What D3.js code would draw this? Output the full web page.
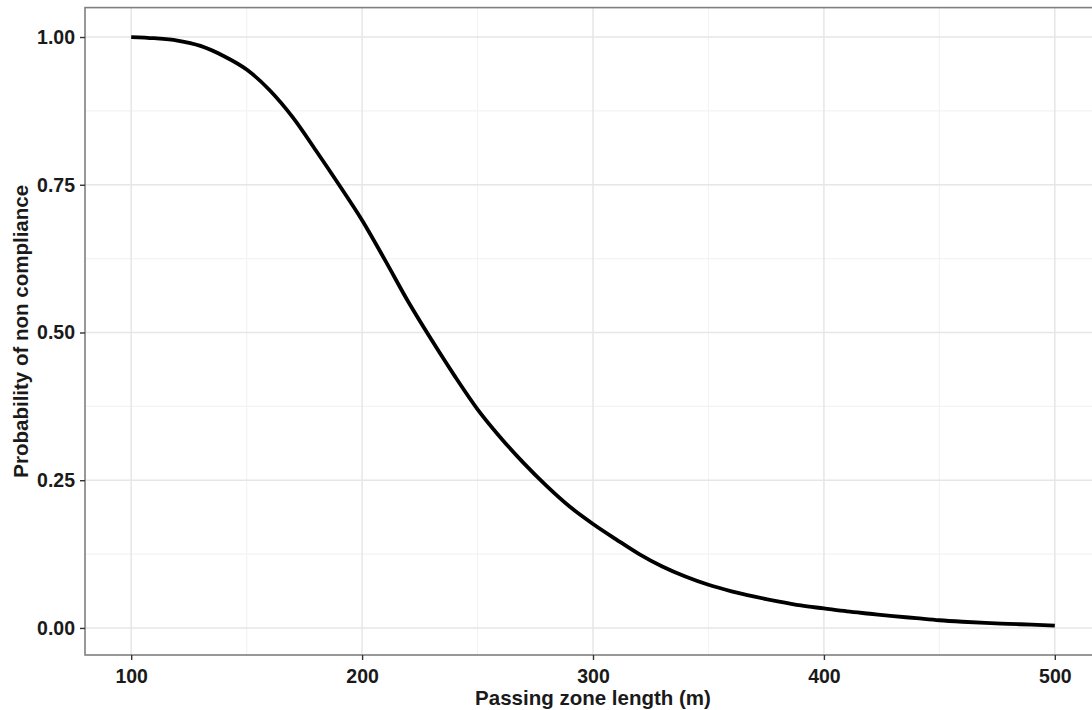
<!DOCTYPE html>
<html>
<head>
<meta charset="utf-8">
<script src="https://cdn.jsdelivr.net/npm/d3@7"></script>
<style>
  html, body { margin: 0; padding: 0; background: #fff; }
  svg { display: block; }
  text { font-family: "Liberation Sans", Arial, sans-serif; font-weight: bold; fill: #1a1a1a; }
</style>
</head>
<body>
<svg id="chart" width="1092" height="710"></svg>
<script>
// Passing zone length (m) and predicted probability of non compliance
const zoneLength = [100, 110, 120, 130, 140, 150, 160, 170, 180, 190,
                    200, 210, 220, 230, 240, 250, 260, 270, 280, 290,
                    300, 310, 320, 330, 340, 350, 360, 370, 380, 390,
                    400, 410, 420, 430, 440, 450, 460, 470, 480, 490, 500];
const probNonCompliance = [1.000, 0.998, 0.994, 0.985, 0.968, 0.945, 0.910, 0.864, 0.808, 0.750,
                           0.690, 0.622, 0.552, 0.488, 0.427, 0.370, 0.322, 0.279, 0.240, 0.205,
                           0.176, 0.150, 0.125, 0.104, 0.087, 0.073, 0.062, 0.053, 0.045, 0.038,
                           0.033, 0.028, 0.024, 0.020, 0.0165, 0.013, 0.0105, 0.0085, 0.007, 0.0055, 0.004];

const xTicks = [100, 200, 300, 400, 500];
const xMinor = [150, 250, 350, 450];
const yTicks = [0, 0.25, 0.5, 0.75, 1];
const yMinor = [0.125, 0.375, 0.625, 0.875];
const yTickLabels = ["0.00", "0.25", "0.50", "0.75", "1.00"];

const xTitle = "Passing zone length (m)";
const yTitle = "Probability of non compliance";

const svg = d3.select("#chart");
const panel = { left: 85, top: 7.6, right: 1101, bottom: 655 };

// Data range padded by 5% on each side
const xExt = d3.extent(zoneLength);
const yExt = d3.extent(probNonCompliance);
const xPad = (xExt[1] - xExt[0]) * 0.05;
const yPad = (yExt[1] - yExt[0]) * 0.05;

const x = d3.scaleLinear()
  .domain([xExt[0] - xPad, xExt[1] + xPad])
  .range([panel.left, panel.right]);
const y = d3.scaleLinear()
  .domain([yExt[0] - yPad, yExt[1] + yPad])
  .range([panel.bottom, panel.top]);

const data = zoneLength.map((d, i) => ({ x: d, y: probNonCompliance[i] }));

// Panel background
svg.append("rect")
  .attr("x", panel.left).attr("y", panel.top)
  .attr("width", panel.right - panel.left).attr("height", panel.bottom - panel.top)
  .attr("fill", "#fff");

const grid = svg.append("g");
// Minor gridlines
grid.selectAll(".xminor").data(xMinor).join("line")
  .attr("x1", d => x(d)).attr("x2", d => x(d))
  .attr("y1", panel.top).attr("y2", panel.bottom)
  .attr("stroke", "#f3f3f3").attr("stroke-width", 1.2);
grid.selectAll(".yminor").data(yMinor).join("line")
  .attr("y1", d => y(d)).attr("y2", d => y(d))
  .attr("x1", panel.left).attr("x2", panel.right)
  .attr("stroke", "#f3f3f3").attr("stroke-width", 1.2);
// Major gridlines
grid.selectAll(".xmajor").data(xTicks).join("line")
  .attr("x1", d => x(d)).attr("x2", d => x(d))
  .attr("y1", panel.top).attr("y2", panel.bottom)
  .attr("stroke", "#e6e6e6").attr("stroke-width", 1.5);
grid.selectAll(".ymajor").data(yTicks).join("line")
  .attr("y1", d => y(d)).attr("y2", d => y(d))
  .attr("x1", panel.left).attr("x2", panel.right)
  .attr("stroke", "#e6e6e6").attr("stroke-width", 1.5);

// Curve
const line = d3.line()
  .x(d => x(d.x))
  .y(d => y(d.y))
  .curve(d3.curveMonotoneX);
svg.append("path")
  .datum(data)
  .attr("d", line)
  .attr("fill", "none")
  .attr("stroke", "#000")
  .attr("stroke-width", 3.8)
  .attr("stroke-linejoin", "round")
  .attr("stroke-linecap", "butt");

// Panel border
svg.append("rect")
  .attr("x", panel.left).attr("y", panel.top)
  .attr("width", panel.right - panel.left).attr("height", panel.bottom - panel.top)
  .attr("fill", "none")
  .attr("stroke", "#7f7f7f")
  .attr("stroke-width", 1.6);

// Axes
const xAxis = d3.axisBottom(x).tickValues(xTicks).tickSize(5).tickPadding(8).tickFormat(d3.format("d"));
const yAxis = d3.axisLeft(y).tickValues(yTicks).tickSize(5).tickPadding(5)
  .tickFormat((d, i) => yTickLabels[i]);

const gx = svg.append("g").attr("transform", `translate(0,${panel.bottom})`).call(xAxis);
const gy = svg.append("g").attr("transform", `translate(${panel.left},0)`).call(yAxis);
[gx, gy].forEach(g => {
  g.select(".domain").remove();
  g.selectAll(".tick line").attr("stroke", "#333").attr("stroke-width", 1.4);
  g.selectAll(".tick text")
    .attr("font-family", "Liberation Sans, Arial, sans-serif")
    .attr("font-weight", "bold")
    .attr("font-size", 19.5)
    .attr("fill", "#1a1a1a");
});
gx.selectAll(".tick text").attr("dy", "0.75em");

// Axis titles
svg.append("text")
  .attr("x", (panel.left + panel.right) / 2)
  .attr("y", 705)
  .attr("text-anchor", "middle")
  .attr("font-size", 20.5)
  .text(xTitle);
svg.append("text")
  .attr("transform", `translate(28,${(panel.top + panel.bottom) / 2}) rotate(-90)`)
  .attr("text-anchor", "middle")
  .attr("font-size", 20.5)
  .text(yTitle);
</script>
</body>
</html>
